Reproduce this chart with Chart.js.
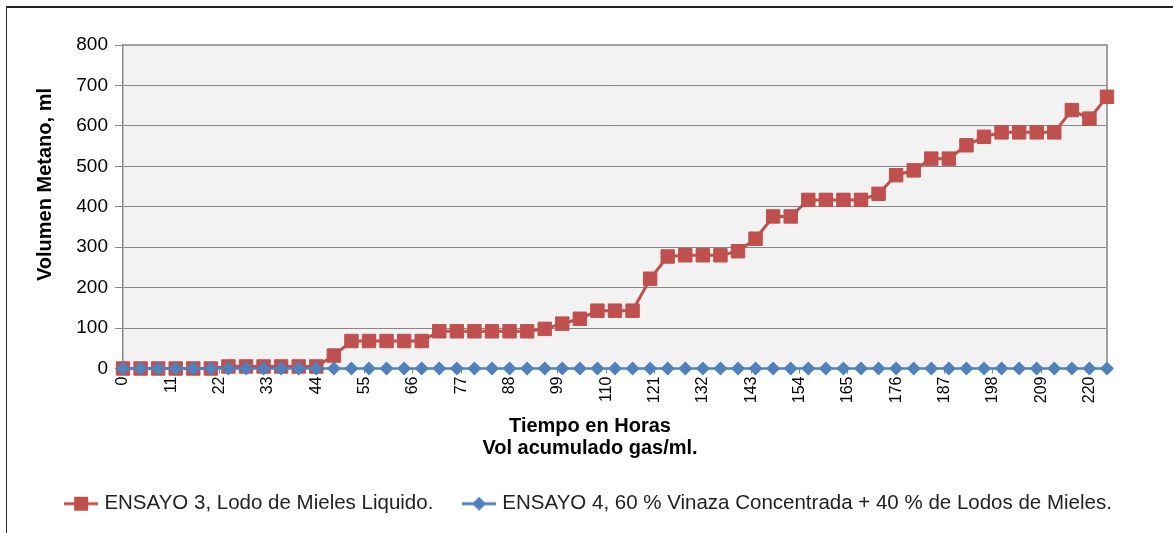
<!DOCTYPE html>
<html>
<head>
<meta charset="utf-8">
<script src="https://cdn.jsdelivr.net/npm/chart.js@4.4.1/dist/chart.umd.min.js"></script>
<style>
  html, body { margin: 0; padding: 0; background: #fff; overflow: hidden; }
  #frame { position: absolute; left: 6px; top: 6px; width: 1300px; height: 700px;
           border-top: 2px solid #222; border-left: 1px solid #333; }
  #wrap { position: absolute; left: 0; top: 0; width: 1173px; height: 533px; }
</style>
</head>
<body>
<div id="frame"></div>
<div id="wrap"><canvas id="chart"></canvas></div>
<script>
// horas de muestreo (cada 4 h)
const hours = [0, 4, 8, 12, 16, 20, 24, 28, 32, 36, 40, 44, 48, 52, 56, 60, 64, 68, 72, 76,
  80, 84, 88, 92, 96, 100, 104, 108, 112, 116, 120, 124, 128, 132, 136, 140, 144, 148, 152, 156,
  160, 164, 168, 172, 176, 180, 184, 188, 192, 196, 200, 204, 208, 212, 216, 220, 224];

const ensayo3 = [0, 0, 0, 0, 0, 0, 5, 5, 5, 5, 5, 5, 32, 68, 68, 68, 68, 68, 92, 92,
  92, 92, 92, 92, 98, 111, 123, 143, 143, 143, 222, 277, 280, 280, 280, 290, 321, 376, 376, 417,
  417, 417, 417, 432, 478, 490, 519, 519, 552, 573, 584, 584, 584, 584, 639, 618, 672];

const ensayo4 = [0, 0, 0, 0, 0, 0, 0, 0, 0, 0, 0, 0, 0, 0, 0, 0, 0, 0, 0, 0,
  0, 0, 0, 0, 0, 0, 0, 0, 0, 0, 0, 0, 0, 0, 0, 0, 0, 0, 0, 0,
  0, 0, 0, 0, 0, 0, 0, 0, 0, 0, 0, 0, 0, 0, 0, 0, 0];

const xTickLabels = [0, 11, 22, 33, 44, 55, 66, 77, 88, 99, 110, 121, 132, 143, 154, 165, 176, 187, 198, 209, 220];

const seriesNames = ["ENSAYO 3, Lodo de Mieles Liquido.",
  "ENSAYO 4, 60 % Vinaza Concentrada + 40 % de Lodos de Mieles."];

const red = "#c0504d";
const blue = "#4f81bd";

function legendIcon(color, shape) {
  let c = document.createElement("canvas");
  c.width = 34;
  c.height = 16;
  let g = c.getContext("2d");
  g.strokeStyle = color;
  g.lineWidth = 3;
  g.beginPath();
  g.moveTo(0, 8);
  g.lineTo(34, 8);
  g.stroke();
  g.fillStyle = color;
  if (shape === "rect") {
    g.fillRect(10, 1, 14, 14);
  } else {
    g.beginPath();
    g.moveTo(17, 1);
    g.lineTo(24, 8);
    g.lineTo(17, 15);
    g.lineTo(10, 8);
    g.closePath();
    g.fill();
  }
  return c;
}
const icons = [legendIcon(red, "rect"), legendIcon(blue, "diamond")];

const plotBg = {
  id: "plotBg",
  beforeDraw(chart) {
    let {ctx, chartArea: a} = chart;
    ctx.save();
    ctx.fillStyle = "#f2f2f2";
    ctx.fillRect(a.left, a.top, a.width, a.height);
    ctx.restore();
  },
  beforeDatasetsDraw(chart) {
    let {ctx, chartArea: a} = chart;
    ctx.save();
    ctx.strokeStyle = "#a0a0a0";
    ctx.lineWidth = 2;
    ctx.beginPath();
    ctx.moveTo(a.left, a.top);
    ctx.lineTo(a.right, a.top);
    ctx.lineTo(a.right, a.bottom);
    ctx.stroke();
    ctx.restore();
  }
};

const toXY = vals => hours.map((h, i) => ({x: h, y: vals[i]}));

new Chart(document.getElementById("chart"), {
  type: "line",
  data: {
    datasets: [{
      label: seriesNames[0],
      data: toXY(ensayo3),
      borderColor: red,
      backgroundColor: red,
      borderWidth: 3,
      pointStyle: "rect",
      pointRadius: 9.5,
      pointBorderWidth: 1,
      pointBackgroundColor: red,
      pointBorderColor: red,
      clip: false,
      order: 2
    }, {
      label: seriesNames[1],
      data: toXY(ensayo4),
      borderColor: blue,
      backgroundColor: blue,
      borderWidth: 2.5,
      pointStyle: "rectRot",
      pointRadius: 7,
      pointBorderWidth: 0,
      pointBackgroundColor: blue,
      clip: false,
      order: 1
    }]
  },
  options: {
    responsive: true,
    maintainAspectRatio: false,
    animation: false,
    layout: {padding: {left: 7, right: 0, top: 45, bottom: 9}},
    scales: {
      x: {
        type: "linear",
        min: 0,
        max: 224,
        afterBuildTicks: s => { s.ticks = xTickLabels.map(v => ({value: v})); },
        afterFit: s => { s.height = 40; },
        ticks: {autoSkip: false, minRotation: 90, maxRotation: 90, padding: 3,
                color: "#000", font: {family: "Liberation Sans", size: 16}},
        grid: {drawOnChartArea: false, tickLength: 5, color: "#868686"},
        border: {color: "#868686", width: 1}
      },
      y: {
        min: 0,
        max: 800,
        afterFit: s => { s.width = 116; },
        ticks: {stepSize: 100, padding: 7, color: "#000", font: {family: "Liberation Sans", size: 19}},
        grid: {color: "#868686", tickLength: 8, lineWidth: 1},
        border: {color: "#868686", width: 1.5},
        title: {display: true, text: "        Volumen Metano, ml", color: "#000",
                font: {family: "Liberation Sans", size: 20, weight: "bold"},
                padding: {top: 26, bottom: 0}}
      },
      pad: {
        type: "linear",
        position: "right",
        display: true,
        grid: {display: false},
        ticks: {display: false},
        border: {display: false},
        afterFit: s => { s.width = 66; }
      }
    },
    plugins: {
      title: {
        display: true,
        position: "bottom",
        weight: 500,
        text: ["Tiempo en Horas", "Vol acumulado gas/ml."],
        color: "#000",
        font: {family: "Liberation Sans", size: 20, weight: "bold", lineHeight: 1.1},
        padding: {top: 7, bottom: 24}
      },
      legend: {
        position: "bottom",
        labels: {
          usePointStyle: true,
          pointStyleWidth: 26,
          padding: 10,
          color: "#222",
          font: {family: "Liberation Sans", size: 20.5},
          sort: (a, b) => a.datasetIndex - b.datasetIndex,
          generateLabels: chart => Chart.defaults.plugins.legend.labels.generateLabels(chart)
            .map(item => Object.assign(item, {
              pointStyle: icons[item.datasetIndex],
              text: item.datasetIndex === 0 ? item.text + "    " : item.text
            }))
        }
      },
      tooltip: {enabled: false}
    }
  },
  plugins: [plotBg]
});
</script>
</body>
</html>
